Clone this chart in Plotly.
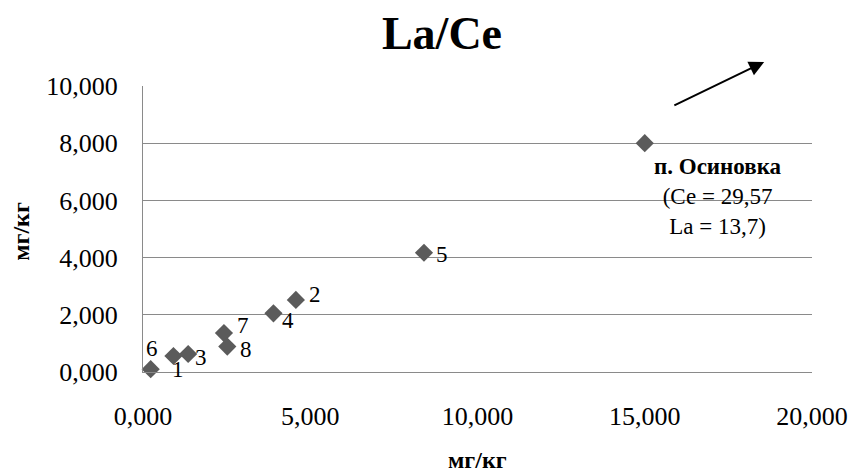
import plotly.graph_objects as go

# Data (Ce on x, La on y, mg/kg)
point_labels = ["6", "1", "3", "7", "8", "4", "2", "5"]
ce_values = [0.23, 0.91, 1.35, 2.42, 2.52, 3.90, 4.57, 8.40]
la_values = [0.10, 0.56, 0.63, 1.36, 0.89, 2.05, 2.52, 4.17]

# Off-scale sample (real values Ce = 29.57, La = 13.7), shown at chart edge
osinovka_x = [15.0]
osinovka_y = [8.0]
osinovka_text = "<b>п. Осиновка</b><br>(Се = 29,57<br>La = 13,7)"

x_tickvals = [0, 5, 10, 15, 20]
x_ticktext = ["0,000", "5,000", "10,000", "15,000", "20,000"]
y_tickvals = [0, 2, 4, 6, 8, 10]
y_ticktext = ["0,000", "2,000", "4,000", "6,000", "8,000", "10,000"]

# label placement styling (pixel offsets from each marker: right, down)
label_dx = [1, 5, 13, 19, 19, 15, 19, 18]
label_dy = [-21, 14, 4, -8, 3, 7, -5, 2]

FONT = "Liberation Serif"
MARK = "#5b5b5b"
GRID = "#8a8a8a"

fig = go.Figure()
fig.add_trace(go.Scatter(
    x=ce_values, y=la_values, mode="markers",
    marker=dict(symbol="diamond", size=14, color=MARK),
    cliponaxis=False, showlegend=False, hoverinfo="x+y",
))
fig.add_trace(go.Scatter(
    x=osinovka_x, y=osinovka_y, mode="markers",
    marker=dict(symbol="diamond", size=14, color=MARK),
    cliponaxis=False, showlegend=False,
))

for lab, xv, yv, dx, dy in zip(point_labels, ce_values, la_values, label_dx, label_dy):
    fig.add_annotation(
        x=xv, y=yv, xref="x", yref="y", text=lab, showarrow=False,
        xanchor="center", yanchor="middle", xshift=dx, yshift=-dy,
        font=dict(family=FONT, size=23, color="#000000"),
    )

fig.add_annotation(
    x=osinovka_x[0] + 2.19, y=osinovka_y[0] - 1.88, xref="x", yref="y",
    text=osinovka_text, showarrow=False, align="center",
    xanchor="center", yanchor="middle",
    font=dict(family=FONT, size=23, color="#000000"),
)
# Arrow pointing off-chart
fig.add_annotation(
    x=18.57, y=10.84, ax=15.84, ay=9.30, xref="x", yref="y", axref="x", ayref="y",
    text="", showarrow=True, arrowhead=2, arrowsize=1.5, arrowwidth=2,
    arrowcolor="#000000",
)
# Axis titles
fig.add_annotation(
    x=0, y=0.49, xref="paper", yref="paper", xshift=-122,
    text="<b>мг/кг</b>", showarrow=False, textangle=-90,
    xanchor="center", yanchor="middle",
    font=dict(family=FONT, size=24, color="#000000"),
)
fig.add_annotation(
    x=0.5, y=0, xref="paper", yref="paper", yshift=-73,
    text="<b>мг/кг</b>", showarrow=False,
    xanchor="center", yanchor="top",
    font=dict(family=FONT, size=24, color="#000000"),
)

fig.update_layout(
    width=850, height=472,
    margin=dict(l=143, r=38, t=86, b=100),
    paper_bgcolor="white", plot_bgcolor="white",
    separators=", ",
    title=dict(text="<b>La/Ce</b>", x=0.5200, xanchor="center", y=0.931, yanchor="middle",
               font=dict(family=FONT, size=46, color="#000000")),
    font=dict(family=FONT, color="#000000"),
)
fig.update_xaxes(
    range=[0, 20], tickvals=x_tickvals, ticktext=x_ticktext,
    showgrid=False, zeroline=False, showline=True, linecolor=GRID, linewidth=1,
    tickfont=dict(family=FONT, size=26), ticks="", ticklabelstandoff=21,
    automargin=False,
)
fig.update_yaxes(
    range=[0, 10], tickvals=y_tickvals, ticktext=y_ticktext,
    showgrid=True, gridcolor=GRID, gridwidth=1, zeroline=False,
    showline=True, linecolor=GRID, linewidth=1,
    tickfont=dict(family=FONT, size=26), ticks="", ticklabelstandoff=19,
    automargin=False,
)

fig.write_html(
    "out.html",
    config={"displayModeBar": False},
    post_script="document.body.style.margin='0';document.body.style.overflow='hidden';",
)
